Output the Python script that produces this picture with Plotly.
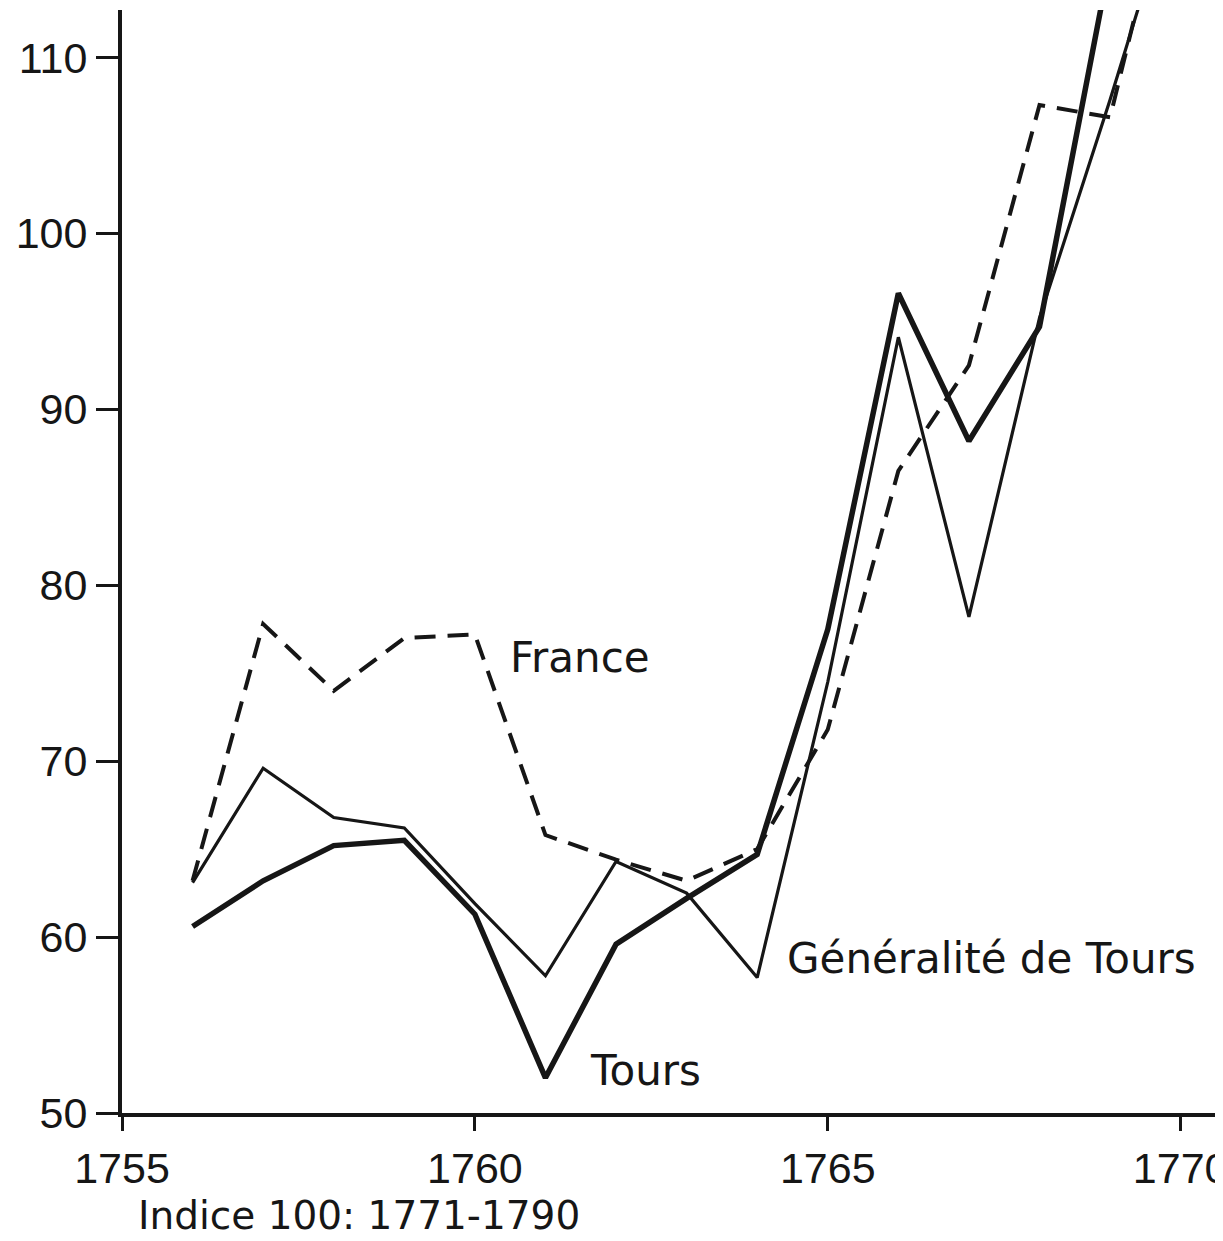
import plotly.graph_objects as go

years = list(range(1756, 1771))
france = [63.2, 77.8, 74.0, 77.0, 77.2, 65.8, 64.4, 63.2, 65.0, 71.8, 86.5, 92.5, 107.3, 106.6, 123.0]
tours = [60.6, 63.2, 65.2, 65.5, 61.3, 52.0, 59.6, 62.2, 64.7, 77.5, 96.6, 88.2, 94.7, 115.5, 128.0]
generalite = [63.1, 69.6, 66.8, 66.2, 61.9, 57.8, 64.3, 62.5, 57.7, 74.5, 94.1, 78.2, 95.2, 107.6, 120.6]

x_ticks = [1755, 1760, 1765, 1770]
y_ticks = [50, 60, 70, 80, 90, 100, 110]

ink = "#161616"
tick_font = dict(family="Liberation Sans, Arial, sans-serif", size=43, color=ink)
label_font = dict(family="DejaVu Sans, sans-serif", size=42, color=ink)

# page has an 8px body margin; the figure is sized to fill the window exactly
W, H = 1215, 1233
L, R, T, B = 114, 0, 2, 128
pw, ph = W - L - R, H - T - B

fig = go.Figure()
fig.add_trace(go.Scatter(x=years, y=france, mode="lines",
                         line=dict(color=ink, width=4, dash="21px,12px"), name="France"))
fig.add_trace(go.Scatter(x=years, y=generalite, mode="lines",
                         line=dict(color=ink, width=3.2), name="Généralité de Tours"))
fig.add_trace(go.Scatter(x=years, y=tours, mode="lines",
                         line=dict(color=ink, width=5.5), name="Tours"))

fig.add_annotation(x=1760.47, y=75.9, text="France", showarrow=False,
                   xanchor="left", yanchor="middle", font=label_font)
fig.add_annotation(x=1764.39, y=58.8, text="Généralité de Tours", showarrow=False,
                   xanchor="left", yanchor="middle", font=label_font)
fig.add_annotation(x=1761.6, y=52.4, text="Tours", showarrow=False,
                   xanchor="left", yanchor="middle", font=label_font)
fig.add_annotation(x=(136 - 8 - L) / pw, y=-(B - 1) / ph, xref="paper", yref="paper",
                   text="Indice 100: 1771-1790", showarrow=False,
                   xanchor="left", yanchor="bottom",
                   font=dict(family="DejaVu Sans, sans-serif", size=39, color=ink))

fig.update_layout(
    width=W, height=H,
    margin=dict(l=L, r=R, t=T, b=B, autoexpand=False),
    paper_bgcolor="white", plot_bgcolor="white",
    showlegend=False,
)
fig.update_xaxes(range=[1755, 1770.6], tickvals=x_ticks, ticktext=[str(v) for v in x_ticks],
                 showgrid=False, zeroline=False, showline=True, linewidth=4, linecolor=ink,
                 ticks="outside", ticklen=14, tickwidth=3, tickcolor=ink,
                 tickfont=tick_font, ticklabelstandoff=0, automargin=False,
                 ticklabeloverflow="allow")
fig.update_yaxes(range=[50, 112.7], tickvals=y_ticks, ticktext=[str(v) for v in y_ticks],
                 showgrid=False, zeroline=False, showline=True, linewidth=4, linecolor=ink,
                 ticks="outside", ticklen=22, tickwidth=3, tickcolor=ink,
                 tickfont=tick_font, ticklabelstandoff=0, automargin=False,
                 ticklabeloverflow="allow")

fig.write_html("out.html")
